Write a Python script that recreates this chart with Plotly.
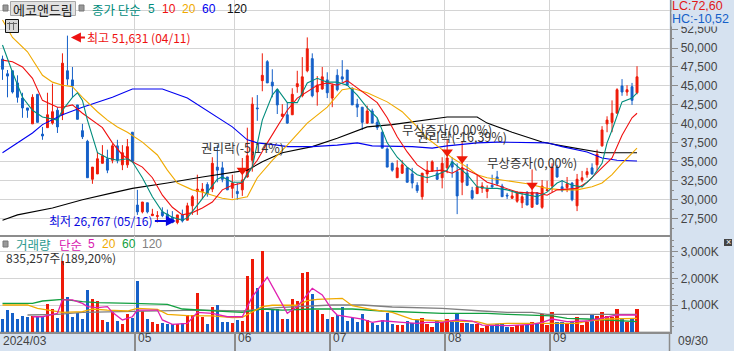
import numpy as np
import plotly.graph_objects as go

# prices in thousands of won, one entry per trading day
open_k = [48.55,46.6,47.0,45.4,43.4,42.1,40.0,43.9,38.65,39.5,40.1,41.8,41.2,47.0,45.8,42.5,39.1,37.7,32.7,33.4,
          34.8,35.4,35.2,37.1,34.6,34.6,38.9,29.3,28.4,29.6,27.9,27.8,28.4,28.1,27.7,27.0,28.0,27.3,29.2,31.1,
          31.1,32.0,31.4,34.3,34.2,33.0,31.5,31.1,31.3,33.0,35.2,42.1,45.7,48.2,45.5,44.5,41.0,41.2,41.2,44.9,
          43.7,47.0,48.6,44.2,44.6,45.8,43.4,46.4,46.2,47.1,44.7,42.6,42.2,40.1,41.7,40.2,38.9,36.7,34.8,32.9,
          33.5,34.2,33.4,31.9,30.4,33.4,33.8,33.5,32.9,34.2,35.0,33.7,32.3,33.5,31.2,30.8,31.5,31.1,31.9,33.0,
          31.8,30.6,30.2,29.8,29.6,31.0,29.0,30.9,29.0,31.2,31.8,34.3,31.7,31.6,32.2,29.2,32.6,33.3,34.2,34.6,
          37.1,40.0,40.2,41.4,45.0,44.2,44.9,44.1]
high_k = [49.0,47.1,47.0,46.4,44.1,42.1,43.9,43.9,39.6,44.1,45.3,42.2,49.3,51.631,47.5,42.5,40.0,37.9,34.3,36.3,
          37.2,36.6,37.4,37.9,37.2,38.0,38.9,31.3,29.7,29.6,28.8,28.5,29.0,28.7,28.5,28.0,28.7,29.6,30.6,33.3,
          32.2,32.3,35.6,37.2,35.0,33.0,33.3,32.2,35.5,39.5,43.5,43.8,49.3,48.4,47.2,44.6,42.6,42.8,44.7,47.0,
          48.8,51.4,49.3,46.3,47.5,46.8,45.3,47.2,48.4,47.1,44.8,43.3,42.2,42.4,42.0,40.8,39.0,36.9,34.9,35.2,
          35.2,34.2,34.2,32.3,33.5,35.1,35.2,34.3,35.6,37.9,35.6,34.8,37.6,34.7,31.7,33.3,32.3,31.9,33.3,33.8,
          32.1,30.9,31.2,31.1,31.0,31.1,34.0,31.0,32.6,32.5,34.8,34.6,32.6,33.0,32.3,33.4,33.8,34.2,34.8,36.6,
          39.7,41.0,43.1,44.7,45.9,45.1,45.4,47.6]
low_k = [45.8,43.5,44.0,42.8,40.8,40.8,40.0,40.2,37.9,39.5,39.9,38.8,40.5,45.1,43.5,40.6,38.0,32.9,32.1,33.4,
         34.8,33.5,34.8,34.8,33.9,34.2,35.0,28.0,28.2,28.2,27.9,27.0,27.7,27.0,26.9,26.767,27.0,27.3,28.0,28.0,
         30.1,30.4,31.0,32.3,32.3,31.3,30.2,30.0,30.5,32.9,33.7,40.4,44.3,45.4,43.5,41.3,40.9,40.0,41.2,44.1,
         43.5,46.8,43.5,42.4,44.5,43.4,42.2,44.3,45.5,45.0,42.5,40.9,39.2,40.0,40.1,39.2,36.8,34.3,33.7,32.9,
         33.4,32.3,31.5,30.9,30.0,32.2,33.7,32.6,31.5,33.5,32.9,28.1,30.6,31.8,30.0,30.8,30.9,30.2,31.5,31.8,
         30.4,30.1,30.1,29.6,28.9,29.3,29.0,29.4,28.8,31.1,31.0,32.9,31.0,31.0,29.8,28.5,32.3,32.9,33.3,33.9,
         37.0,38.9,38.9,41.4,43.7,43.7,42.5,43.9]
close_k = [47.2,46.3,44.2,43.5,42.1,41.8,43.5,40.2,38.4,41.2,41.6,39.6,48.0,45.9,45.0,40.6,38.3,32.9,34.3,35.4,
           35.8,33.9,37.1,35.2,36.2,37.0,35.0,28.4,29.7,28.4,28.1,27.9,27.9,27.6,27.0,28.0,27.2,29.2,30.4,31.4,
           31.4,30.8,34.8,33.9,32.7,31.3,32.2,30.8,32.6,35.8,42.6,42.0,46.4,45.4,45.0,42.5,41.3,40.1,43.9,45.3,
           46.2,49.9,43.7,45.1,46.2,44.1,45.1,44.5,45.9,45.1,42.5,42.2,40.2,41.7,40.1,39.5,36.8,34.3,33.9,34.2,
           34.6,32.3,32.2,31.2,33.5,33.9,35.0,32.7,34.8,35.5,34.3,30.5,34.2,31.9,30.2,31.7,31.8,31.4,31.7,32.1,
           30.4,30.5,30.5,31.0,30.4,29.3,31.0,29.4,31.8,31.3,34.3,33.0,31.2,32.1,30.0,32.7,32.9,33.7,33.4,36.0,
           39.2,40.5,41.4,44.5,44.2,44.5,43.1,46.2]
volume_k = [475,810,710,475,590,560,590,540,540,1040,850,525,2650,1310,560,690,475,1560,1225,1150,
            440,375,750,400,290,660,500,1900,775,475,360,290,325,275,300,275,310,625,625,1450,
            560,290,940,1000,375,375,325,440,400,2090,2725,1650,3025,750,850,850,475,475,1225,1150,
            2200,2240,1410,810,660,475,550,625,925,400,510,360,650,440,325,250,440,700,290,250,
            250,400,325,440,510,290,175,400,360,475,360,710,325,325,290,300,140,225,225,290,
            325,175,175,250,250,250,350,290,650,250,725,350,350,300,410,550,250,350,625,590,
            725,590,550,850,500,375,475,835.257]

# moving averages, read at the marked trading-day numbers
ma5_i = [0,2,4,6,8,11,12,14,15,16,17,19,21,23,25,26,28,30,32,34,36,37,39,41,43,44,46,48,50,52,54,55,57,59,61,63,65,67,69,71,73,75,77,79,81,83,85,87,89,90,93,95,97,99,101,103,105,107,109,111,112,114,116,118,120,121,122,123,124,126,127]
ma5 = [50.4,46.8,43.5,41.8,40.9,40.5,41.8,43.5,44.1,43.1,40.5,36.2,35.5,35.2,35.4,35.0,32.9,30.4,28.4,27.7,27.3,27.6,29.3,31.0,32.7,33.0,32.3,32.3,34.3,40.5,43.8,44.6,42.8,42.8,45.4,46.0,45.5,45.5,45.1,43.8,42.1,40.8,37.5,35.6,34.3,33.3,32.9,33.3,33.9,35.0,33.3,31.7,31.5,31.5,31.3,30.9,30.6,30.4,31.0,32.2,32.5,31.9,31.7,32.9,34.8,37.5,39.2,41.2,42.9,43.4,44.1]
ma10_i = [0,2,4,6,8,11,12,14,16,18,20,22,24,26,28,30,32,34,36,38,40,42,44,46,48,49,51,53,55,57,59,61,63,65,67,69,71,73,75,77,79,81,83,85,88,90,92,95,97,99,101,103,105,107,109,111,113,115,117,120,122,124,126,127]
ma10 = [48.4,48.2,47.5,46.0,43.1,42.2,42.2,42.5,41.4,40.5,39.5,37.5,35.9,35.0,34.3,32.9,30.6,29.0,28.0,28.3,28.9,29.7,31.3,31.9,32.2,33.5,35.2,37.5,39.6,41.8,43.4,44.2,45.1,45.4,45.1,45.7,44.7,43.8,42.8,40.8,38.3,36.3,34.6,33.7,33.9,33.5,34.2,33.3,32.3,31.9,31.5,31.0,30.9,30.9,30.6,31.3,31.4,31.5,32.3,34.2,35.5,38.5,40.8,41.4]
ma20_i = [0,2,5,8,10,12,14,16,19,21,23,25,28,31,33,35,38,40,42,44,46,49,51,54,57,61,65,68,70,73,77,80,83,85,88,90,93,95,97,101,105,109,112,115,118,120,122,124,126,127]
ma20 = [53.7,51.4,49.5,46.4,45.5,45.1,44.9,43.5,41.6,40.5,39.6,38.9,37.6,35.9,33.9,32.2,31.3,31.0,30.6,30.2,30.0,30.4,32.9,35.2,37.2,40.1,42.2,44.5,44.7,44.1,42.9,41.6,39.6,38.1,36.6,35.5,34.3,33.3,32.9,32.5,32.1,31.5,31.3,31.3,31.7,32.2,33.3,34.8,36.2,36.8]
ma60_i = [0,3,6,8,12,16,22,26,32,37,43,46,49,51,55,57,62,67,71,74,82,86,89,95,99,105,109,112,117,120,123,127]
ma60 = [36.2,37.5,38.8,39.9,41.2,42.2,43.5,44.6,44.6,43.4,40.8,39.6,37.9,37.5,37.2,37.0,37.0,37.2,37.5,37.1,37.0,36.8,37.1,37.5,37.6,37.5,37.5,37.0,36.3,35.5,35.2,35.1]
ma120_i = [0,3,10,16,22,26,33,40,49,52,56,62,67,73,78,83,89,95,97,102,108,112,118,120,127]
ma120 = [27.3,28.0,28.9,30.0,30.9,31.5,32.2,33.0,33.9,35.0,36.2,37.0,38.1,39.6,39.9,40.4,40.9,40.9,40.1,38.9,37.6,37.1,36.4,36.2,36.2]

vma5_i = [6,8,11,12,14,16,17,19,21,22,24,26,27,31,32,34,37,39,42,45,48,50,53,55,57,59,62,64,66,67,70,72,74,76,80,83,85,88,91,94,96,101,106,108,110,113,117,120,123,127]
vma5 = [560,560,690,1190,1190,1060,940,900,940,725,440,560,810,810,440,275,310,725,690,560,560,1310,2040,1375,690,940,1625,1375,810,625,540,475,350,410,350,310,350,350,440,400,250,225,275,350,475,375,400,500,625,625]
vma20_i = [0,5,7,12,16,18,21,25,27,31,33,37,42,46,48,52,54,59,61,63,68,70,74,78,82,88,95,97,101,105,109,115,117,121,127]
vma20 = [1000,1000,875,725,750,850,810,775,875,840,650,600,590,525,540,940,990,990,1160,1210,1250,975,825,725,460,400,375,275,310,310,310,310,400,475,500]
vma60_i = [0,6,8,12,16,19,26,33,36,39,45,48,52,56,62,70,76,88,97,101,107,110,113,117,127]
vma60 = [1060,1060,1150,1210,1125,1090,1060,1025,850,810,750,725,850,810,850,850,775,690,690,650,625,590,500,475,375]
vma120_i = [5,11,16,26,33,39,48,55,66,72,78,88,96,101,106,109,127]
vma120 = [625,650,725,750,775,810,775,900,1000,1000,925,875,775,725,725,650,650]

month_ticks = [26.5,46.5,65.5,88.5,109.5]
month_labels = ["05","06","07","08","09"]
price_ticks = [27500,30000,32500,35000,37500,40000,42500,45000,47500,50000,52500,55000]
volume_ticks = [1000,2000,3000]
volume_labels = ["1,000K","2,000K","3,000K"]
event_i = [48,89,92,106]
event_k = [33.9,36.3,35.4,31.9]

RED, BLUE = "#ee1a08", "#1560c8"
GRID, AXIS, BAND = "#d4d4d4", "#8c8c8c", "#d6e2f0"
KR = "Noto Sans CJK KR, Liberation Sans, sans-serif"
LAT = "Liberation Sans, sans-serif"

k = lambda a: np.array(a) * 1000
idx = np.arange(len(close_k))
up = np.array(close_k) > np.array(open_k)

fig = go.Figure()
fig.add_trace(go.Candlestick(
    x=idx, open=k(open_k), high=k(high_k), low=k(low_k), close=k(close_k),
    whiskerwidth=0, showlegend=False, xaxis="x", yaxis="y",
    increasing=dict(line=dict(color=RED, width=1), fillcolor=RED),
    decreasing=dict(line=dict(color=BLUE, width=1), fillcolor=BLUE)))
for xs, ys, col in [(ma120_i, ma120, "#000000"), (ma60_i, ma60, "#0000f0"), (ma20_i, ma20, "#f0aa00"),
                    (ma10_i, ma10, "#f01010"), (ma5_i, ma5, "#008c7c")]:
    fig.add_trace(go.Scatter(x=xs, y=k(ys), mode="lines", line=dict(color=col, width=1.1),
                             showlegend=False, xaxis="x", yaxis="y"))
fig.add_trace(go.Scatter(x=event_i, y=k(event_k), mode="markers", showlegend=False, xaxis="x", yaxis="y",
                         marker=dict(symbol="triangle-down", size=10, color=RED, line=dict(width=0))))
fig.add_trace(go.Bar(x=idx, y=volume_k, width=0.68, marker=dict(color=[RED if u else BLUE for u in up], line=dict(width=0)),
                     showlegend=False, xaxis="x2", yaxis="y2"))
for xs, ys, col in [(vma120_i, vma120, "#808080"), (vma60_i, vma60, "#12a040"), (vma20_i, vma20, "#f0aa00"),
                    (vma5_i, vma5, "#e020b0")]:
    fig.add_trace(go.Scatter(x=xs, y=ys, mode="lines", line=dict(color=col, width=1.3),
                             showlegend=False, xaxis="x2", yaxis="y2"))

W, H = 734, 351
def px(x): return x / W
def py(y): return 1 - y / H

def note(text, x, y, color="#333333", size=12, anchor="left", font=KR, bg=None):
    fig.add_annotation(text=text, x=px(x), y=py(y), xref="paper", yref="paper", xanchor=anchor, yanchor="middle",
                       showarrow=False, font=dict(color=color, size=size, family=font), bgcolor=bg,
                       borderpad=0, align=anchor)

# header legend
fig.add_shape(type="rect", x0=px(10.5), x1=px(75.5), y0=py(1.5), y1=py(15.5), xref="paper", yref="paper",
              fillcolor="#e2e2e2", line=dict(color="#a8a8a8", width=1))
for x0, y0 in [(3, 5), (79, 5), (3, 241)]:
    fig.add_shape(type="rect", x0=px(x0), x1=px(x0 + 5), y0=py(y0), y1=py(y0 + 6), xref="paper", yref="paper",
                  fillcolor="#999999", line=dict(color="#777777", width=1))
fig.add_shape(type="rect", x0=px(5.5), x1=px(18.5), y0=py(19.5), y1=py(32.5), xref="paper", yref="paper",
              fillcolor="#d8d8d8", line=dict(color="#111111", width=1))
for gx in (9.5, 13.5):
    fig.add_shape(type="line", x0=px(gx), x1=px(gx), y0=py(22), y1=py(30), xref="paper", yref="paper",
                  line=dict(color="#666666", width=1))
fig.add_shape(type="line", x0=px(7), x1=px(17), y0=py(23.5), y1=py(23.5), xref="paper", yref="paper",
              line=dict(color="#666666", width=1))
note("에코앤드림", 43, 9, "#222222", 13, "center")
note("종가 단순", 91, 9, "#008c7c", 12.5)
note("5", 147, 9, "#008c7c", 12, font=LAT)
note("10", 161, 9, "#f01010", 12, font=LAT)
note("20", 181, 9, "#f0aa00", 12, font=LAT)
note("60", 201, 9, "#0000f0", 12, font=LAT)
note("120", 226, 9, "#111111", 12, font=LAT)
note("거래량", 15, 244, "#2c9a90", 12.5)
note("단순", 58, 244, "#d820b0", 12.5)
note("5", 87, 244, "#d820b0", 12, font=LAT)
note("20", 101, 244, "#f0aa00", 12, font=LAT)
note("60", 121, 244, "#12a040", 12, font=LAT)
note("120", 141, 244, "#808080", 12, font=LAT)
note("835,257주(189,20%)", 5, 257, "#333333", 12)
note("LC:72,60", 671, 6, "#e01818", 12.5, font=LAT, bg=BAND)
note("HC:-10,52", 671, 19, "#1560c8", 12.5, font=LAT, bg=BAND)

# high / low call-outs tied to the data
fig.add_annotation(text="최고 51,631 (04/11)", x=13.7, y=51400, xref="x", yref="y", ax=14, ay=0, xanchor="left",
                   showarrow=True, arrowhead=2, arrowwidth=2, arrowcolor="#ee1111", standoff=0,
                   font=dict(color="#ee1111", size=12, family=KR))
fig.add_annotation(text="최저 26,767 (05/16)", x=34.7, y=27200, xref="x", yref="y", ax=-21, ay=0, xanchor="right",
                   showarrow=True, arrowhead=2, arrowwidth=2, arrowcolor="#0808e0", standoff=0,
                   font=dict(color="#0808e0", size=12, family=KR))
for text, xi, yv in [("권리락(-5,14%)", 48, 36900), ("무상증자(0,00%)", 89, 39200),
                     ("권리락(-16,39%)", 92, 38300), ("무상증자(0,00%)", 106, 34900)]:
    fig.add_annotation(text=text, x=xi, y=yv, xref="x", yref="y", xanchor="center",
                       showarrow=False, font=dict(color="#333333", size=12.5, family=KR))

# x-band labels
note("2024/03", 2, 341, "#444444", 12, font=LAT)
for t, lab in zip(month_ticks, month_labels):
    fig.add_annotation(text=lab, x=t, y=0, xref="x2", yref="paper", xanchor="left", yanchor="bottom", yshift=4, xshift=1,
                       showarrow=False, font=dict(color="#444444", size=12, family=LAT))
note("09/30", 677, 341, "#444444", 12, font=LAT)
fig.add_shape(type="line", x0=px(669.5), x1=px(669.5), y0=py(332), y1=0, xref="paper", yref="paper",
              line=dict(color=AXIS, width=1.5))
fig.add_shape(type="rect", x0=px(724), x1=px(732), y0=py(239), y1=py(246), xref="paper", yref="paper",
              fillcolor="#444444", line=dict(width=0))
note("×", 728, 242.5, "#ffffff", 9, "center", LAT)

x_common = dict(range=[-0.5, 133.5], tickmode="array", tickvals=month_ticks, ticktext=[""] * 5, showgrid=True,
                gridcolor=GRID, gridwidth=1, zeroline=False, domain=[0, 669.5 / W], showline=True,
                linecolor=AXIS, linewidth=1.5, rangeslider=dict(visible=False))
fig.update_layout(
    width=W, height=H, margin=dict(l=0, r=0, t=0, b=0), paper_bgcolor=BAND, plot_bgcolor="#ffffff",
    showlegend=False, boxgap=0.45, bargap=0,
    xaxis=dict(**x_common, anchor="y", ticks="", showticklabels=False),
    xaxis2=dict(**x_common, anchor="y2", ticks="outside", ticklen=19, tickcolor=AXIS, tickwidth=1.5),
    yaxis=dict(domain=[1 - 235 / H, 1], range=[25350, 56330], side="right", anchor="x", tickmode="array",
               tickvals=price_ticks, tickformat=",d", gridcolor=GRID, gridwidth=1, zeroline=False,
               ticks="outside", ticklen=7, tickcolor=AXIS, showline=True, linecolor=AXIS, linewidth=1.5,
               tickfont=dict(family=LAT, size=12, color="#444444"),
               minor=dict(tickvals=[v - 1250 for v in price_ticks], ticks="outside", ticklen=3, tickcolor=AXIS)),
    yaxis2=dict(domain=[1 - 332 / H, 1 - 236 / H], range=[-11, 3584], side="right", anchor="x2", tickmode="array",
                tickvals=volume_ticks, ticktext=volume_labels, gridcolor=GRID, gridwidth=1, zeroline=True,
                zerolinecolor=GRID, ticks="outside", ticklen=7, tickcolor=AXIS, showline=True, linecolor=AXIS,
                linewidth=1.5, tickfont=dict(family=LAT, size=12, color="#444444"),
                minor=dict(tickvals=[v for v in range(200, 3600, 200) if v % 1000], ticks="outside", ticklen=3, tickcolor=AXIS)),
)
fig.write_html("out.html", config={"displayModeBar": False},
               post_script="document.body.style.margin='0';document.body.style.overflow='hidden';")
